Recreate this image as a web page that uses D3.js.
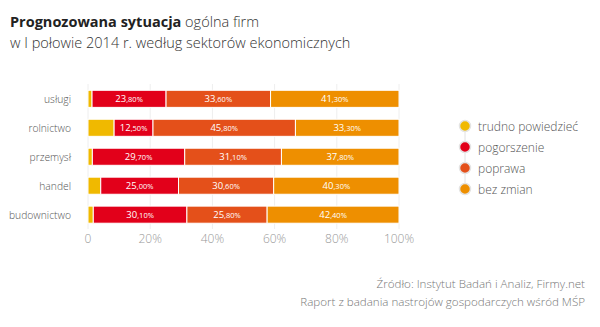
<!DOCTYPE html>
<html><head><meta charset="utf-8">
<script src="https://cdn.jsdelivr.net/npm/d3@7"></script>
<style>
html,body{margin:0;padding:0;background:#fff;}
svg{display:block;font-family:"Open Sans",sans-serif;}
</style></head>
<body>
<svg id="c" width="600" height="327"></svg>
<script>
const categories = ["usługi","rolnictwo","przemysł","handel","budownictwo"];
const seriesNames = ["trudno powiedzieć","pogorszenie","poprawa","bez zmian"];
const trudno = [1.3, 8.4, 1.4, 4.1, 1.7];
const pogorszenie = [23.8, 12.5, 29.7, 25.0, 30.1];
const poprawa = [33.6, 45.8, 31.1, 30.6, 25.8];
const bezZmian = [41.3, 33.3, 37.8, 40.3, 42.4];
const xTicks = [0,20,40,60,80,100];
const colors = ["#F0B900","#E2001A","#E4501A","#EE8F00"];

const svg = d3.select("#c");
const x = d3.scaleLinear().domain([0,100]).range([88,399]);
const y = d3.scaleBand().domain(categories).range([84.5,229]).paddingInner(0.41).paddingOuter(0.2);

// title
const t = svg.append("text").attr("x",10).attr("y",27).attr("font-size",14.5).attr("fill","#222");
t.append("tspan").attr("font-weight",700).text("Prognozowana sytuacja");
t.append("tspan").attr("font-weight",300).attr("fill","#333").text(" ogólna firm");
svg.append("text").attr("x",10).attr("y",48).attr("font-size",14.5).attr("font-weight",300).attr("fill","#333").text("w I połowie 2014 r. według sektorów ekonomicznych");

// grid
svg.append("g").selectAll("line").data(xTicks).join("line")
  .attr("x1",d=>x(d)).attr("x2",d=>x(d)).attr("y1",84).attr("y2",229)
  .attr("stroke","#eeeeee").attr("stroke-width",1);

// axis labels
svg.append("g").selectAll("text").data(xTicks).join("text")
  .attr("x",d=>x(d)).attr("y",243).attr("text-anchor","middle")
  .attr("font-size",12).attr("font-weight",300).attr("fill","#999")
  .text(d=>d===0?"0":d+"%");

// category labels
svg.append("g").selectAll("text").data(categories).join("text")
  .attr("x",71).attr("y",d=>y(d)+y.bandwidth()/2+4).attr("text-anchor","end")
  .attr("font-size",10.3).attr("font-weight",300).attr("fill","#555").text(d=>d);

const data = categories.map((c,i)=>({cat:c, trudno:trudno[i], pogorszenie:pogorszenie[i], poprawa:poprawa[i], bez:bezZmian[i]}));
const stack = d3.stack().keys(["trudno","pogorszenie","poprawa","bez"])(data);

const g = svg.append("g");
stack.forEach((layer,li)=>{
  g.append("g").selectAll("rect").data(layer).join("rect")
    .attr("x",d=>x(d[0])).attr("width",d=>x(d[1])-x(d[0]))
    .attr("y",d=>y(d.data.cat)).attr("height",y.bandwidth())
    .attr("fill",colors[li]).attr("stroke","#fff").attr("stroke-width",1);
  if(li>0){
    const lab = g.append("g").selectAll("text").data(layer).join("text")
      .attr("x",d=>(x(d[0])+x(d[1]))/2).attr("y",d=>y(d.data.cat)+y.bandwidth()/2+3.5)
      .attr("text-anchor","middle").attr("fill","#fff");
    lab.each(function(d){
      const v = (d[1]-d[0]).toFixed(2).split(".");
      const s = d3.select(this);
      s.append("tspan").attr("font-size",9.5).text(v[0]);
      s.append("tspan").attr("font-size",7.5).text(","+v[1]+"%");
    });
  }
});

// legend
const lx = 465, ly0 = 126, ldy = 21;
svg.append("line").attr("x1",lx).attr("x2",lx).attr("y1",ly0).attr("y2",ly0+3*ldy).attr("stroke","#e2e2e2").attr("stroke-width",1);
const lg = svg.append("g").selectAll("g").data(seriesNames).join("g")
  .attr("transform",(d,i)=>`translate(${lx},${ly0+i*ldy})`);
lg.append("circle").attr("r",5.5).attr("fill",(d,i)=>colors[i]).attr("stroke","#e4e4e4").attr("stroke-width",1.5);
lg.append("text").attr("x",13).attr("y",4.5).attr("font-size",12).attr("font-weight",300).attr("fill","#555").text(d=>d);

// footer
svg.append("text").attr("x",585).attr("y",288).attr("text-anchor","end").attr("font-size",11.6).attr("font-weight",300).attr("fill","#777").text("Źródło: Instytut Badań i Analiz, Firmy.net");
svg.append("text").attr("x",585).attr("y",306).attr("text-anchor","end").attr("font-size",11.6).attr("font-weight",300).attr("fill","#777").text("Raport z badania nastrojów gospodarczych wśród MŚP");
</script>
</body></html>
